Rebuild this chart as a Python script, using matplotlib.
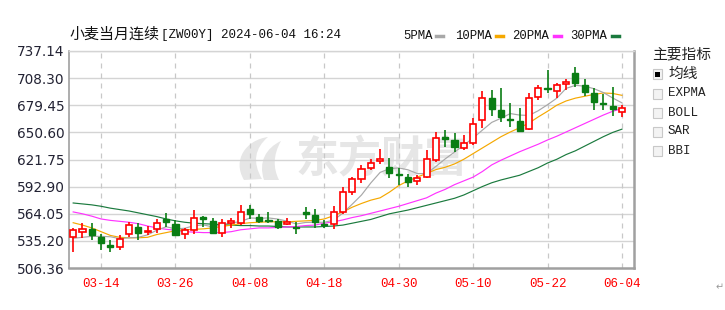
# 小麦当月连续 daily K-line with moving averages
# candles, red hollow = up, green solid = down

import numpy as np
from matplotlib import pyplot as plt
from matplotlib.patches import Rectangle, PathPatch
from matplotlib.path import Path
from matplotlib.lines import Line2D

# Data

dates = ['03-11','03-12','03-13','03-14','03-15','03-18','03-19','03-20','03-21','03-22',
         '03-25','03-26','03-27','03-28','04-01','04-02','04-03','04-04','04-05','04-08',
         '04-09','04-10','04-11','04-12','04-15','04-16','04-17','04-18','04-19','04-22',
         '04-23','04-24','04-25','04-26','04-29','04-30','05-01','05-02','05-03','05-06',
         '05-07','05-08','05-09','05-10','05-13','05-14','05-15','05-16','05-17','05-20',
         '05-21','05-22','05-23','05-24','05-28','05-29','05-30','05-31','06-03','06-04']

opens  = [539,545,548,539,531,529,542,550,545,548, 559,553,542,547,561,556,544,554,554,569,
          561,557,556,553,550,566,563,553,553,566, 587,601,613,620,614,606,603,599,603,621,
          646,643,634,639,664,687,674,665,663,654, 688,698,695,702,714,701,693,682,679,672]
highs  = [549,554,554,543,536,541,555,554,551,558, 565,557,549,568,562,560,558,560,573,573,
          564,566,558,560,555,571,569,557,572,593, 603,616,622,633,623,613,606,605,632,651,
          653,650,648,666,695,696,698,682,677,692, 701,717,703,707,720,707,698,691,699,680]
lows   = [523,538,536,526,523,525,539,536,541,544, 550,540,537,543,550,543,539,549,552,558,
          554,554,548,552,543,559,549,549,548,564, 584,597,611,617,602,595,593,595,602,619,
          635,630,632,637,655,668,662,656,651,653, 685,692,687,696,699,689,674,674,668,667]
closes = [547,548,541,533,529,537,552,544,546,554, 555,541,547,560,558,544,554,556,566,564,
          556,556,550,555,549,564,555,552,566,587, 601,612,618,622,607,605,598,602,622,645,
          644,635,639,660,687,675,667,664,652,687, 698,697,701,704,703,694,683,681,675,677]

ma5  = [538,539,540,540,539.6,537.6,538.4,539,541.6,546.6, 550.2,548,548.6,551.4,552.2,550,552.6,554.4,555.6,559.6,
        559.2,559.6,558.4,556.2,553.2,554.8,555,555,557.2,564.8, 574.2,584,596.8,608,612,612.8,610.8,606.8,606.8,614.4,
        622.4,629.6,637,644.6,653,661.2,665.6,670.6,669,668.6, 673.6,680,687,697.4,700.6,699.8,697,693,687.2,682]
ma10 = [554.5,552,549,545,541,539,538.5,538.5,539,542, 544,546,547,547.5,548,549,550.5,552,553.5,554.5,
        555,555.5,555.5,555.5,556,556.5,557,558.5,562,566, 571,575,578.5,581,587,594,599,603,607,611,
        613.5,617,622,628,634,640,646,651,655.5,660.5, 667,673,679.5,684,687,689,691,692.5,692,690]
ma20 = [566,564,561.5,558.5,557,556,555,553.5,551,549, 547.5,546.5,545,544.5,544,544,544,545,547,548,
        549,549,549.5,550,550.5,551.5,552,554,555.5,557.5, 560,562,564.5,567,569.5,572,575,578,581,586,
        590,595,599,603,609,616,621,625.5,630,634, 638,642.5,646.5,651,655.5,660,664.5,669,673,676]
ma30 = [575.5,574.5,573.5,572,570,568.5,567,565,563,561, 558.5,556.5,555,554,553.5,553,552.5,552,551.5,551.5,
        551,551,550.5,550,550,550,550,550.5,551,552, 554,556,558,561,564,566,568,570.5,573,575.5,
        578,580.5,584,588.5,593,597,600,602.5,605,609, 613,618,622,627,631,636,641,646,650.5,654]

tick_dates = ['03-14','03-26','04-08','04-18','04-30','05-10','05-22','06-04']
ytick_labels = ['506.36','535.20','564.05','592.90','621.75','650.60','679.45','708.30','737.14']

ma_names = ['5PMA','10PMA','20PMA','30PMA']
ma_colors = ['#a8a8a8','#f5a800','#ff33ff','#1b7a3e']

indicators = ['均线','EXPMA','BOLL','SAR','BBI']

# Figure

W, H = 725, 310
fig = plt.figure(figsize=(W/100, H/100), dpi=100)
ax = fig.add_axes([69/W, 1-268/H, (634-69)/W, (268-51)/H])

def fx(px): return px/W
def fy(py): return 1-py/H

x = np.arange(len(dates))
o = np.array(opens); c = np.array(closes); h = np.array(highs); l = np.array(lows)
up = c >= o
red = '#ff0000'
green = '#0a7d14'

# watermark (logo swoosh + name), drawn under the transparent axes
wm = '#e6e6e6'
blade1 = [(244,180),(232,160),(246,140),(268,137),(255,148),(252,162),(262,179),(244,180)]
blade2 = [(264,180),(258,162),(266,148),(281,141),(273,155),(273,168),(279,180),(264,180)]
codes = [Path.MOVETO, Path.CURVE4, Path.CURVE4, Path.CURVE4,
         Path.CURVE4, Path.CURVE4, Path.CURVE4, Path.CLOSEPOLY]
for blade in [blade1, blade2]:
    verts = [(fx(px), fy(py)) for px, py in blade]
    fig.add_artist(PathPatch(Path(verts, codes), transform=fig.transFigure,
                             facecolor=wm, edgecolor='none', zorder=-1))
fig.text(fx(381), fy(159), '东方财富', ha='center', va='center', fontsize=31,
         fontweight='bold', color=wm, family=['Noto Sans CJK SC'], zorder=-1)
ax.patch.set_alpha(0)

# grid
yt = [float(v) for v in ytick_labels]
for v in yt[1:]:
    ax.axhline(v, color='#d4d4d4', lw=1.0, zorder=1)
tick_pos = [dates.index(d) for d in tick_dates]
for p in tick_pos:
    ax.axvline(p, color='#c8c8c8', lw=0.9, ls=(0, (4, 4)), zorder=1)

# moving averages
for vals, col in zip([ma30, ma20, ma10, ma5], ma_colors[::-1]):
    ax.plot(x, vals, color=col, lw=0.85, zorder=2)

# candles
cols = np.where(up, red, green)
ax.vlines(x, l, h, colors=cols, lw=1.2, zorder=3)
bottoms = np.minimum(o, c)
heights = np.maximum(np.abs(c - o), 0.6)
ax.bar(x[up], heights[up], bottom=bottoms[up], width=0.66, facecolor='white',
       edgecolor=red, lw=1.2, zorder=4)
ax.bar(x[~up], heights[~up], bottom=bottoms[~up], width=0.66, facecolor=green,
       edgecolor=green, lw=1.0, zorder=4)

ax.set_xlim(-0.45, 60.3)
ax.set_ylim(yt[0], yt[-1])
ax.set_yticks(yt)
ax.set_yticklabels(ytick_labels, fontsize=9.8, color='#222233', family='DejaVu Sans')
ax.set_xticks(tick_pos)
ax.set_xticklabels(tick_dates, fontsize=9, color='#ff0000', family='Liberation Mono')
ax.tick_params(axis='both', length=0)
ax.tick_params(axis='y', pad=3)
ax.tick_params(axis='x', pad=7)

for s in ['left', 'bottom', 'right']:
    ax.spines[s].set_color('#a0a0a0')
    ax.spines[s].set_linewidth(1.8)
ax.spines['left'].set_linewidth(1.2)
ax.spines['top'].set_color('#d4d4d4')
ax.spines['top'].set_linewidth(1.0)

# title
fig.text(fx(69), fy(35), '小麦当月连续', fontsize=10.8, family=['Noto Sans CJK SC'],
         color='#111111', va='center', ha='left')
fig.text(fx(161), fy(35), '[ZW00Y] 2024-06-04 16:24', fontsize=9, family='Liberation Mono',
         color='#111111', va='center', ha='left')

# legend
leg_text_x = [403, 455, 512, 570]
leg_dash_x = [436, 496, 554, 612]
for name, col, tx, dx in zip(ma_names, ma_colors, leg_text_x, leg_dash_x):
    fig.text(fx(tx), fy(36), name, fontsize=8.8, family='Liberation Mono', color='#111111',
             va='center', ha='left')
    fig.add_artist(Line2D([fx(dx), fx(dx+7)], [fy(36), fy(36)], color=col, lw=2.5))

# indicator panel
fig.text(fx(652), fy(54), '主要指标', fontsize=10.6, family=['Noto Sans CJK SC'],
         color='#222222', va='center', ha='left')
box_y = [74, 93.5, 112.5, 131.5, 150.5]
for i, (name, by) in enumerate(zip(indicators, box_y)):
    fig.add_artist(Rectangle((fx(652.5), fy(by+5)), 9/W, 10/H, transform=fig.transFigure,
                             facecolor='#f3f3f3', edgecolor='#c8c8c8', lw=0.8))
    if i == 0:
        fig.add_artist(Rectangle((fx(655), fy(by+2.5)), 4.5/W, 5/H, transform=fig.transFigure,
                                 facecolor='#000000', edgecolor='none'))
        fig.text(fx(668), fy(by), name, fontsize=10.6, family=['Noto Sans CJK SC'],
                 color='#222222', va='center', ha='left')
    else:
        fig.text(fx(668), fy(by), name, fontsize=9, family='Liberation Mono',
                 color='#222222', va='center', ha='left')

fig.text(fx(716), fy(287), '↵', fontsize=7, color='#999999', va='center', ha='left')

plt.savefig('out.png', dpi=100, facecolor='white')
